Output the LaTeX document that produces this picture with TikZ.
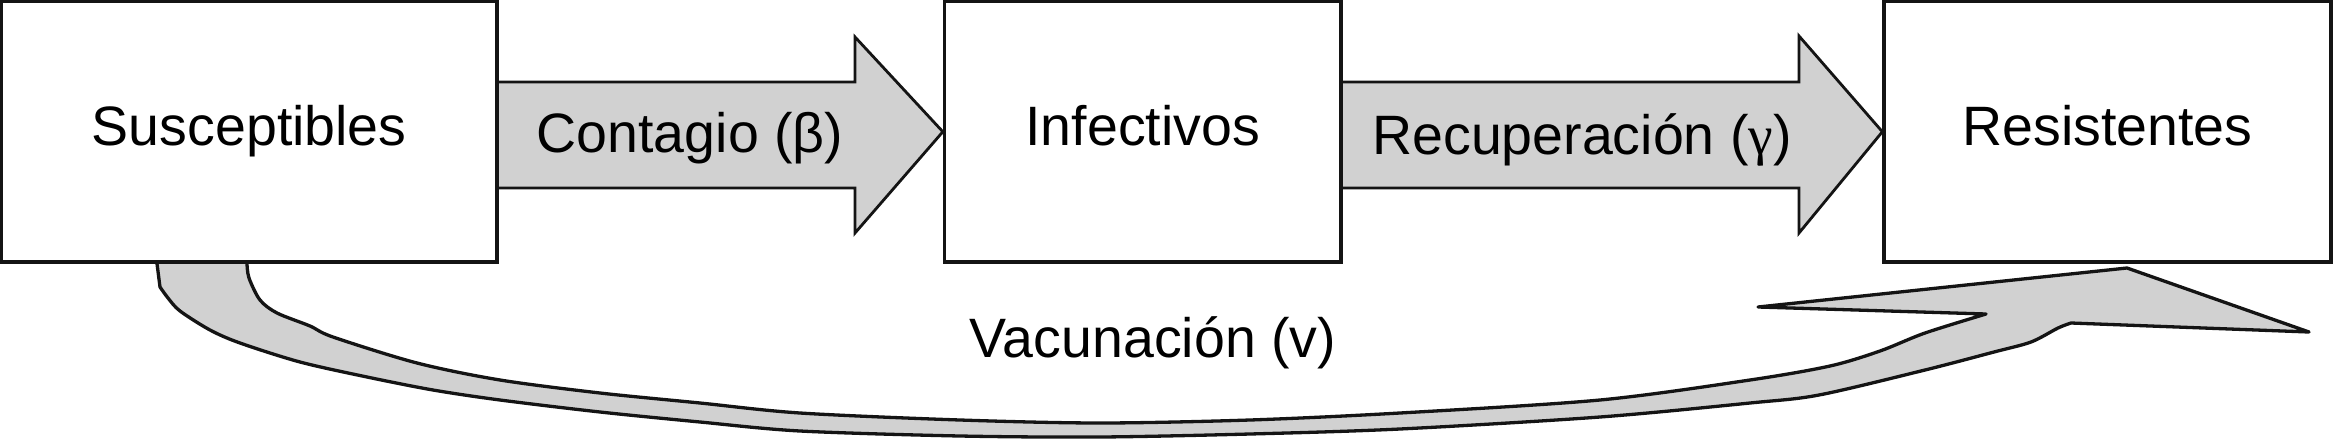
\documentclass[tikz,border=0pt]{standalone}
\usepackage{fontspec}
\setmainfont{Liberation Sans}
\newfontfamily\greekserif{Liberation Serif}
\definecolor{arrowgray}{RGB}{209,209,209}
\definecolor{inkline}{RGB}{20,20,20}
\begin{document}
\begin{tikzpicture}[x=1pt,y=-1pt,
  box/.style={draw=inkline, line width=3.3pt, fill=white, inner sep=0pt,
    text height=40pt, text depth=12pt, font=\fontsize{55.5}{62}\selectfont},
  lbl/.style={inner sep=0pt, anchor=base, font=\fontsize{55.5}{62}\selectfont},
  blockarrow/.style={draw=inkline, fill=arrowgray, line width=2.8pt, line join=miter},
  bandarrow/.style={draw=inkline, fill=arrowgray, line width=3.3pt, line join=round}]
\useasboundingbox (0,0) rectangle (2333,439);

% box positions (drawn later on top)
\path (249.25,131.75) coordinate (Sc);
\path (1142.75,131.75) coordinate (Ic);
\path (2107.5,131.75) coordinate (Rc);

% invisible placeholders to get anchors first
\node[box, draw=none, fill=none, minimum width=495.5pt, minimum height=260.5pt] (S) at (Sc) {};
\node[box, draw=none, fill=none, minimum width=396.5pt, minimum height=260.5pt] (I) at (Ic) {};
\node[box, draw=none, fill=none, minimum width=447pt, minimum height=260.5pt] (R) at (Rc) {};

% curved vaccination arrow
\coordinate (vin) at (S.south -| 247,0);
\coordinate (vout) at (S.south -| 157,0);
\coordinate (vtip) at (2127,268);
\draw[bandarrow] plot[smooth, tension=0.5] coordinates {
  (vin) (249,278) (260,300) (277,313) (310,326) (333,337) (417,363) (500,380)
  (600,393) (700,403) (800,413) (960,420) (1100,423) (1250,420) (1400,413)
  (1600,400) (1750,380) (1830,366) (1880,351) (1925,333) (1986,314)}
  -- (1758,307) -- (vtip) -- (2309,332) -- (2071,323)
  -- plot[smooth, tension=0.5] coordinates {
  (2071,323) (2058,328) (2031,342) (1994,352) (1925,370) (1819,395) (1750,403)
  (1600,417) (1400,429) (1250,434) (1100,437) (960,436) (800,431) (700,422)
  (600,412) (500,400) (433,390) (367,377) (300,362) (240,343) (210,330)
  (180,311) (168,298) (160,287)}
  -- (vout);

% block arrows
\draw[blockarrow] (S.east |- 0,82) -- (855,82) -- (855,37) -- (I.west)
  -- (855,233) -- (855,188) -- (S.east |- 0,188);
\draw[blockarrow] (I.east |- 0,82) -- (1799,82) -- (1799,36) -- (R.west)
  -- (1799,233) -- (1799,188) -- (I.east |- 0,188);

% boxes
\node[box, minimum width=495.5pt, minimum height=260.5pt] at (Sc) {Susceptibles};
\node[box, minimum width=396.5pt, minimum height=260.5pt] at (Ic) {Infectivos};
\node[box, minimum width=447pt, minimum height=260.5pt] at (Rc) {Resistentes};

% labels
\node[lbl] (lc) at (690,152) {Contagio (β)};
\node[lbl] (lr) at (1582,154) {Recuperación ({\greekserif γ})};
\node[lbl] (lv) at (1153,357) {Vacunación (v)};
\end{tikzpicture}
\end{document}
